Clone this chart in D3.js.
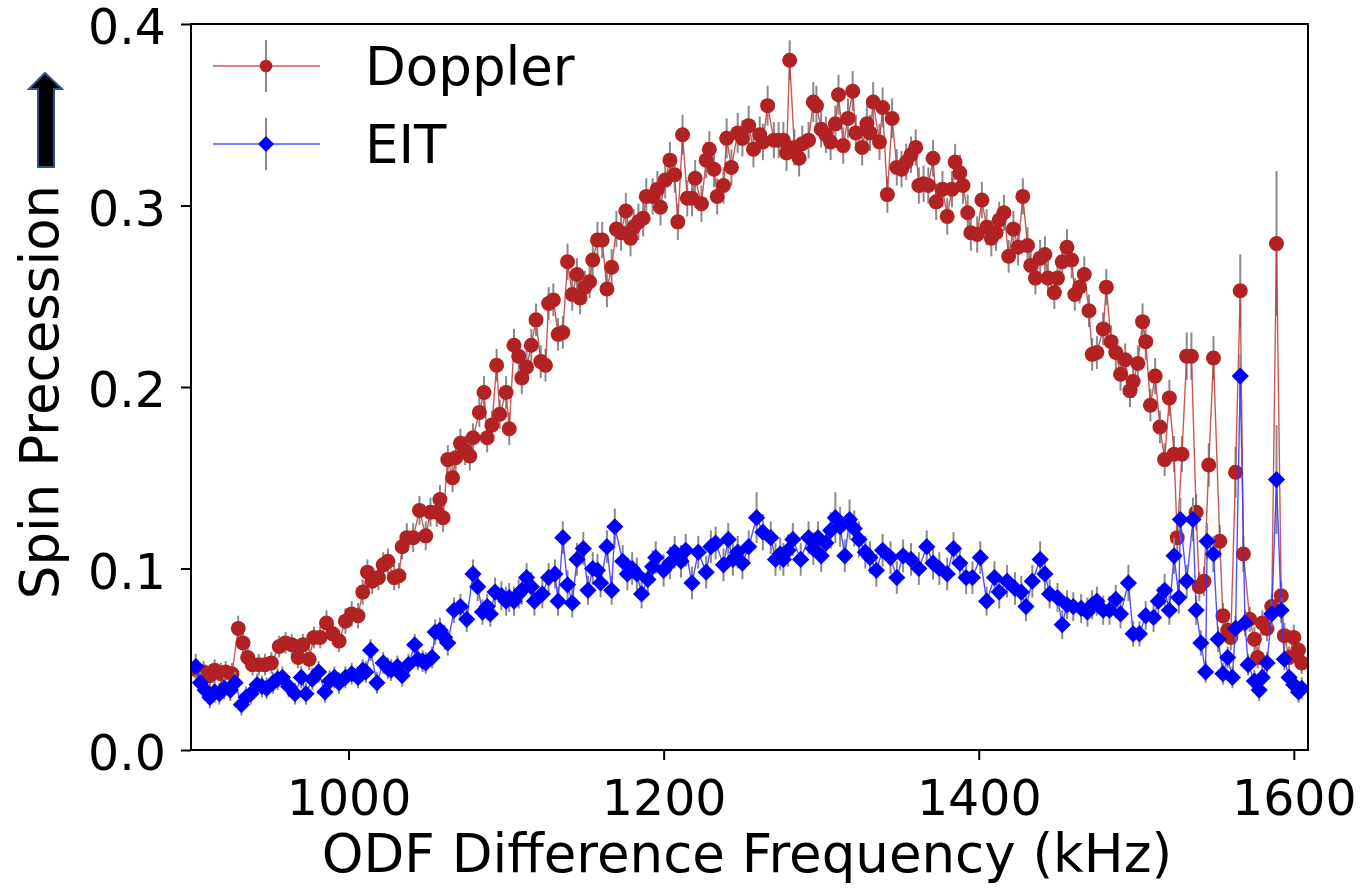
<!DOCTYPE html>
<html><head><meta charset="utf-8">
<script src="https://cdn.jsdelivr.net/npm/d3@7"></script>
<style>
body{margin:0;background:#fff}
svg{display:block}
text{font-family:"DejaVu Sans",sans-serif;fill:#000}
</style>
</head><body>
<svg id="chart" width="1363" height="889"></svg>
<script>
// ---------------- data ----------------
const xTicks = [1000, 1200, 1400, 1600];
const yTicks = [0.0, 0.1, 0.2, 0.3, 0.4];
const xLabel = "ODF Difference Frequency (kHz)";
const yLabel = "Spin Precession";
const seriesNames = ["Doppler", "EIT"];

const dopFreq = [
 904,908,912,915,919,922,926,930,933,936,
 939,943,947,951,956,960,964,968,971,975,
 978,982,986,990,994,998,1002,1006,1009,1012,
 1015,1019,1022,1025,1029,1032,1034,1037,1041,1045,
 1049,1052,1056,1058,1060,1063,1066,1068,1071,1074,
 1077,1079,1083,1086,1088,1091,1094,1096,1100,1102,
 1105,1108,1110,1113,1116,1119,1122,1125,1127,1130,
 1133,1136,1139,1142,1145,1147,1150,1153,1155,1158,
 1161,1164,1167,1170,1173,1176,1179,1181,1184,1187,
 1189,1193,1196,1198,1201,1204,1207,1209,1212,1215,
 1218,1220,1224,1227,1229,1232,1234,1238,1240,1243,
 1247,1250,1254,1257,1261,1263,1266,1270,1273,1276,
 1278,1280,1283,1286,1288,1292,1295,1297,1300,1303,
 1306,1309,1311,1314,1317,1320,1322,1326,1329,1331,
 1333,1337,1339,1342,1345,1348,1351,1354,1357,1360,
 1362,1365,1368,1371,1373,1377,1380,1383,1385,1388,
 1390,1393,1395,1399,1402,1405,1408,1411,1413,1416,
 1419,1422,1425,1428,1431,1433,1436,1439,1442,1444,
 1448,1450,1453,1456,1459,1461,1464,1467,1470,1472,
 1475,1479,1481,1484,1487,1490,1493,1496,1498,1501,
 1504,1506,1509,1512,1515,1518,1521,1524,1526,1529,
 1532,1535,1538,1540,1543,1546,1549,1553,1555,1558,
 1560,1563,1566,1568,1572,1575,1577,1580,1583,1586,
 1589,1592,1594,1597,1600,1603,1605
];
const dopVal = [
 .044,.043,.041,.044,.042,.043,.042,.067,.059,.051,
 .047,.047,.047,.048,.057,.059,.058,.051,.058,.050,
 .062,.062,.070,.064,.060,.071,.075,.074,.087,.098,
 .093,.095,.102,.104,.095,.096,.112,.117,.117,.132,
 .118,.131,.131,.138,.128,.160,.150,.161,.169,.165,
 .162,.172,.186,.197,.172,.179,.212,.185,.197,.177,
 .223,.217,.205,.211,.223,.237,.214,.212,.246,.248,
 .229,.230,.269,.251,.262,.249,.255,.258,.270,.281,
 .281,.254,.266,.287,.285,.297,.282,.288,.291,.293,
 .305,.305,.309,.299,.314,.325,.317,.291,.339,.304,
 .304,.315,.301,.325,.331,.320,.305,.311,.337,.321,
 .340,.337,.344,.331,.339,.335,.355,.336,.336,.336,
 .329,.380,.332,.326,.334,.336,.357,.355,.342,.339,
 .335,.345,.361,.333,.348,.363,.340,.332,.345,.340,
 .357,.335,.354,.306,.348,.321,.320,.324,.328,.332,
 .311,.312,.311,.326,.302,.309,.294,.309,.324,.318,
 .311,.296,.285,.284,.303,.288,.282,.285,.292,.296,
 .272,.287,.277,.305,.278,.267,.260,.271,.273,.260,
 .252,.260,.269,.277,.270,.251,.255,.262,.242,.218,
 .219,.232,.255,.225,.219,.207,.215,.198,.203,.213,
 .236,.225,.190,.206,.178,.160,.194,.163,.117,.163,
 .217,.217,.131,.090,.093,.157,.216,.115,.074,.066,
 .062,.153,.253,.108,.072,.061,.051,.070,.067,.079,
 .279,.085,.063,.051,.062,.055,.048
];
// error bar half-lengths, in thousandths
const dopErrMilli = [
 6,6,6,6,6,6,6,7,6,6,
 6,6,6,6,6,6,6,6,6,6,
 6,6,7,6,6,7,7,7,7,7,
 7,7,7,7,7,7,7,8,8,8,
 8,8,8,8,8,8,8,8,8,8,
 8,8,8,9,8,8,9,8,9,9,
 9,9,9,9,9,9,9,9,9,9,
 9,9,10,9,9,9,9,9,9,10,
 10,10,10,10,10,10,10,10,10,10,
 10,10,10,10,10,10,10,10,11,10,
 10,10,10,10,10,10,10,10,11,10,
 11,10,11,10,10,10,11,10,10,10,
 10,11,10,10,10,10,11,11,10,10,
 10,10,11,10,11,11,10,10,10,10,
 11,10,11,10,11,10,10,10,10,10,
 10,10,10,10,10,10,10,10,10,10,
 10,10,10,10,10,10,10,10,10,10,
 9,10,10,10,10,9,9,10,10,10,
 9,10,10,10,10,9,9,10,9,9,
 9,9,10,9,9,9,9,9,9,10,
 10,10,9,10,9,9,10,10,9,10,
 13,13,10,8,8,12,12,9,7,7,
 7,14,20,10,7,7,6,7,7,7,
 40,8,7,6,7,6,6
];

const eitFreq = [
 903,906,909,912,915,918,921,925,928,932,
 935,938,942,945,948,952,955,958,962,966,
 970,973,977,981,985,988,991,994,998,1002,
 1006,1009,1011,1014,1018,1022,1025,1027,1031,1034,
 1038,1042,1044,1047,1049,1053,1055,1058,1061,1063,
 1067,1071,1075,1079,1082,1085,1088,1090,1093,1097,
 1100,1102,1105,1108,1110,1113,1116,1118,1123,1127,
 1131,1133,1136,1139,1142,1145,1149,1152,1155,1158,
 1160,1164,1167,1169,1174,1177,1180,1183,1186,1190,
 1193,1195,1200,1204,1207,1211,1214,1218,1222,1227,
 1230,1233,1238,1241,1244,1247,1250,1254,1259,1263,
 1268,1271,1274,1276,1279,1282,1287,1292,1295,1298,
 1300,1303,1306,1309,1312,1315,1318,1321,1324,1328,
 1331,1335,1339,1344,1348,1352,1357,1362,1367,1371,
 1375,1380,1384,1388,1392,1396,1401,1405,1410,1413,
 1418,1423,1427,1430,1434,1439,1442,1445,1450,1453,
 1456,1460,1465,1469,1472,1475,1479,1483,1487,1490,
 1495,1498,1502,1506,1511,1514,1518,1521,1524,1527,
 1528,1532,1536,1538,1541,1544,1545,1549,1552,1555,
 1558,1561,1563,1566,1569,1571,1575,1578,1580,1583,
 1586,1589,1592,1594,1597,1600,1603,1605
];
const eitVal = [
 .046,.037,.033,.029,.032,.031,.034,.033,.037,.025,
 .029,.031,.036,.035,.034,.037,.039,.040,.035,.031,
 .040,.031,.039,.043,.032,.038,.040,.037,.040,.042,
 .040,.044,.043,.055,.037,.048,.045,.044,.046,.041,
 .047,.058,.050,.049,.048,.051,.065,.066,.062,.059,
 .077,.079,.072,.097,.090,.076,.079,.075,.087,.085,
 .082,.084,.082,.086,.088,.095,.090,.082,.086,.095,
 .097,.082,.117,.091,.081,.105,.111,.088,.100,.099,
 .092,.112,.088,.123,.104,.097,.100,.097,.086,.094,
 .101,.106,.099,.103,.109,.104,.110,.092,.109,.098,
 .112,.114,.102,.116,.105,.109,.103,.112,.128,.120,
 .117,.105,.108,.105,.110,.116,.105,.117,.111,.117,
 .107,.114,.121,.128,.123,.107,.127,.122,.116,.109,
 .106,.099,.110,.106,.095,.107,.105,.100,.112,.103,
 .100,.097,.111,.103,.095,.095,.106,.082,.095,.087,
 .093,.089,.087,.079,.093,.105,.097,.086,.084,.069,
 .080,.079,.078,.076,.080,.082,.077,.077,.083,.075,
 .092,.064,.064,.074,.073,.082,.088,.077,.107,.084,
 .127,.093,.127,.077,.059,.043,.115,.108,.061,.042,
 .051,.040,.067,.206,.070,.047,.038,.033,.040,.048,
 .075,.149,.077,.050,.040,.036,.032,.034
];
const eitErrMilli = [
 7,6,6,6,6,6,6,6,6,6,
 6,6,6,6,6,6,6,6,6,6,
 6,6,6,6,6,6,6,6,6,6,
 6,6,6,6,6,6,6,6,6,6,
 6,6,6,6,6,6,7,7,7,7,
 7,7,7,8,8,7,7,7,8,8,
 8,8,8,8,8,8,8,8,8,8,
 8,8,9,8,8,9,9,8,9,9,
 8,9,8,10,9,9,9,9,8,9,
 9,9,9,9,9,9,9,9,9,9,
 9,9,9,9,9,9,9,9,14,10,
 9,9,9,9,9,9,9,9,9,9,
 9,9,10,14,11,9,11,10,10,9,
 9,9,9,9,9,9,9,9,9,9,
 9,9,9,9,9,9,9,8,9,9,
 9,9,9,8,9,10,9,8,8,8,
 8,8,8,8,8,8,8,8,8,8,
 10,7,7,8,8,8,9,8,10,9,
 12,9,12,8,7,6,10,10,7,6,
 6,6,7,12,7,6,6,6,6,6,
 7,30,7,6,6,6,6,6
];

// ---------------- drawing ----------------
const svg = d3.select("#chart");
const plot = {left:191, right:1308, top:24, bottom:750};
const FS_TICK = 49, FS_LABEL = 53;

const x = d3.scaleLinear().domain([900, 1609]).range([plot.left, plot.right]);
const y = d3.scaleLinear().domain([0, 0.4]).range([plot.bottom, plot.top]);

const series = [
  {name:seriesNames[0], freq:dopFreq, val:dopVal, err:dopErrMilli, color:"#b22222", lineColor:"#c23b3b", marker:"circle"},
  {name:seriesNames[1], freq:eitFreq, val:eitVal, err:eitErrMilli, color:"#0000ff", lineColor:"#3333ff", marker:"diamond"}
];

svg.append("defs").append("clipPath").attr("id","clip")
  .append("rect").attr("x",plot.left).attr("y",plot.top)
  .attr("width",plot.right-plot.left).attr("height",plot.bottom-plot.top);

const dataG = svg.append("g").attr("clip-path","url(#clip)");
const R = 7.5, D = 8.6;
function diamondPath(s){ return `M0,${-s}L${s},0L0,${s}L${-s},0Z`; }

series.forEach(s => {
  const pts = s.freq.map((f,i)=>({f, v:s.val[i], e:s.err[i]/1000}));
  const g = dataG.append("g");
  g.selectAll("line.err").data(pts).enter().append("line")
    .attr("x1",d=>x(d.f)).attr("x2",d=>x(d.f))
    .attr("y1",d=>y(d.v-d.e)).attr("y2",d=>y(d.v+d.e))
    .attr("stroke","#8a8a8a").attr("stroke-width",2);
  g.append("path").datum(pts)
    .attr("d", d3.line().x(d=>x(d.f)).y(d=>y(d.v)))
    .attr("fill","none").attr("stroke",s.lineColor).attr("stroke-width",1.4).attr("stroke-opacity",0.85);
  if (s.marker==="circle"){
    g.selectAll("circle").data(pts).enter().append("circle")
      .attr("cx",d=>x(d.f)).attr("cy",d=>y(d.v)).attr("r",R).attr("fill",s.color);
  } else {
    g.selectAll("path.m").data(pts).enter().append("path").attr("class","m")
      .attr("d",diamondPath(D))
      .attr("transform",d=>`translate(${x(d.f)},${y(d.v)})`).attr("fill",s.color);
  }
});

// frame
svg.append("rect").attr("x",plot.left).attr("y",plot.top)
  .attr("width",plot.right-plot.left).attr("height",plot.bottom-plot.top)
  .attr("fill","none").attr("stroke","#000").attr("stroke-width",2);

// axes
const xAxis = svg.append("g").attr("transform",`translate(0,${plot.bottom})`)
  .call(d3.axisBottom(x).tickValues(xTicks).tickFormat(d3.format("d")).tickSize(10).tickPadding(20));
const yAxis = svg.append("g").attr("transform",`translate(${plot.left},0)`)
  .call(d3.axisLeft(y).tickValues(yTicks).tickFormat(d3.format(".1f")).tickSize(10).tickPadding(15));
[xAxis,yAxis].forEach(a=>{
  a.select(".domain").remove();
  a.selectAll(".tick line").attr("stroke","#000").attr("stroke-width",2);
  a.selectAll(".tick text").attr("font-size",FS_TICK).attr("font-family","DejaVu Sans").attr("fill","#000");
});
yAxis.selectAll(".tick text").attr("dy","0.40em");

// axis labels
svg.append("text").attr("x",747).attr("y",872)
  .attr("text-anchor","middle").attr("font-size",FS_LABEL).text(xLabel);
svg.append("text").attr("transform","translate(58,392) rotate(-90)")
  .attr("text-anchor","middle").attr("font-size",FS_LABEL).text(yLabel);

// arrow above y label
svg.append("path")
  .attr("d","M45,73 L62,89 L54,89 L54,167 L38,167 L38,89 L29,89 Z")
  .attr("fill","#000").attr("stroke","#2f528f").attr("stroke-width",2).attr("stroke-linejoin","miter");

// legend
const leg = svg.append("g");
series.forEach((s,i)=>{
  const cy = 66 + i*78;
  leg.append("line").attr("x1",266).attr("x2",266).attr("y1",cy-26).attr("y2",cy+26)
    .attr("stroke","#8a8a8a").attr("stroke-width",2);
  leg.append("line").attr("x1",213).attr("x2",320).attr("y1",cy).attr("y2",cy)
    .attr("stroke",s.lineColor).attr("stroke-width",1.4).attr("stroke-opacity",0.85);
  if (s.marker==="circle"){
    leg.append("circle").attr("cx",266).attr("cy",cy).attr("r",6.3).attr("fill",s.color);
  } else {
    leg.append("path").attr("d",diamondPath(8)).attr("transform",`translate(266,${cy})`).attr("fill",s.color);
  }
  leg.append("text").attr("x",365).attr("y",cy+19).attr("font-size",FS_LABEL).text(s.name);
});
</script>
</body></html>
